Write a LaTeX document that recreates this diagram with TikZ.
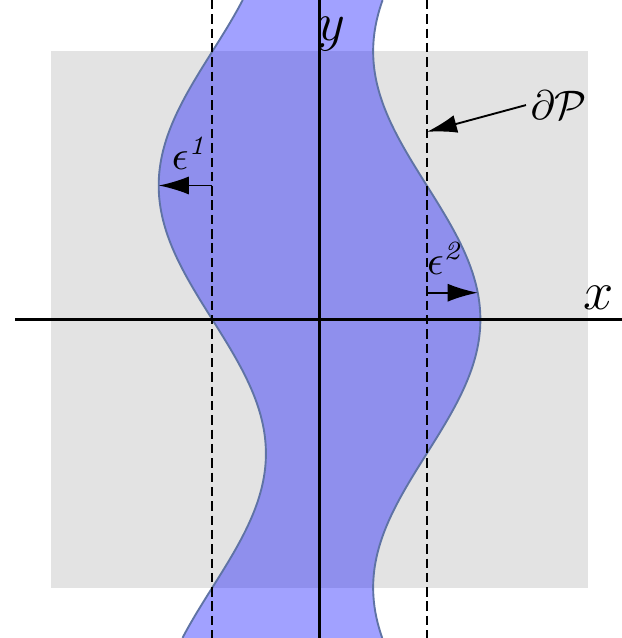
\documentclass[tikz,border=0pt]{standalone}
\usetikzlibrary{arrows.meta}
\definecolor{boxgray}{RGB}{227,227,227}
\definecolor{bandedge}{RGB}{95,115,165}
\tikzset{
  axisline/.style={line width=0.6pt, black},
  guide/.style={line width=0.5pt, black, dash pattern=on 2.5pt off 1.3pt},
  band/.style={fill=blue, fill opacity=0.37},
  bandline/.style={draw=bandedge, line width=0.5pt},
  pointer/.style={line width=0.5pt, -{Latex[length=8pt,width=4.8pt]}},
  biglabel/.style={inner sep=0pt, font=\fontsize{13.5}{16}\selectfont},
  lbl/.style={inner sep=0pt, font=\fontsize{10.5}{12}\selectfont}
}
\begin{document}
\begin{tikzpicture}[x=1cm,y=1cm]
\useasboundingbox (-2.98,-2.97) rectangle (2.82,2.98);
% gray domain
\fill[boxgray] (-2.5,-2.5) rectangle (2.5,2.5);
% band
\fill[band] plot[domain=2.98:-2.97, samples=120, smooth] ({-1-0.5*sin(72*\x)}, \x)
  -- plot[domain=-2.97:2.98, samples=120, smooth] ({1+0.5*cos(72*\x)}, \x) -- cycle;
\draw[bandline] plot[domain=2.98:-2.97, samples=120, smooth] ({-1-0.5*sin(72*\x)}, \x);
\draw[bandline] plot[domain=-2.97:2.98, samples=120, smooth] ({1+0.5*cos(72*\x)}, \x);
% dashed guides
\coordinate (gLt) at (-1,2.98);
\coordinate (gLb) at (-1,-2.97);
\coordinate (gRt) at (1,2.98);
\coordinate (gRb) at (1,-2.97);
\draw[guide] (gLt) -- (gLb);
\draw[guide] (gRt) -- (gRb);
% axes
\coordinate (xa) at (-2.84,0);
\coordinate (xb) at (2.82,0);
\coordinate (ya) at (0,-2.97);
\coordinate (yb) at (0,2.98);
\draw[axisline] (xa) -- (xb);
\draw[axisline] (ya) -- (yb);
\node[biglabel] (xl) at (2.60,0.205) {$x$};
\node[biglabel] (yl) at (0.115,2.66) {$y$};
% epsilon 1
\coordinate (e1s) at (-1,1.25);
\coordinate (e1e) at (-1.5,1.25);
\draw[pointer] (e1s) -- (e1e);
\node[lbl] (e1) at (-1.20,1.55) {$\epsilon^{\mathit{1}}$};
% epsilon 2
\coordinate (e2s) at (1,0.25);
\coordinate (e2e) at (1.4755,0.25);
\draw[pointer] (e2s) -- (e2e);
\node[lbl] (e2) at (1.18,0.565) {$\epsilon^{\mathit{2}}$};
% boundary label
\node[lbl] (dP) at (2.23,2.0) {$\partial\mathcal{P}$};
\coordinate (dPt) at (1,1.75);
\draw[pointer] ([xshift=-1pt]dP.west) -- (dPt);
\end{tikzpicture}
\end{document}
